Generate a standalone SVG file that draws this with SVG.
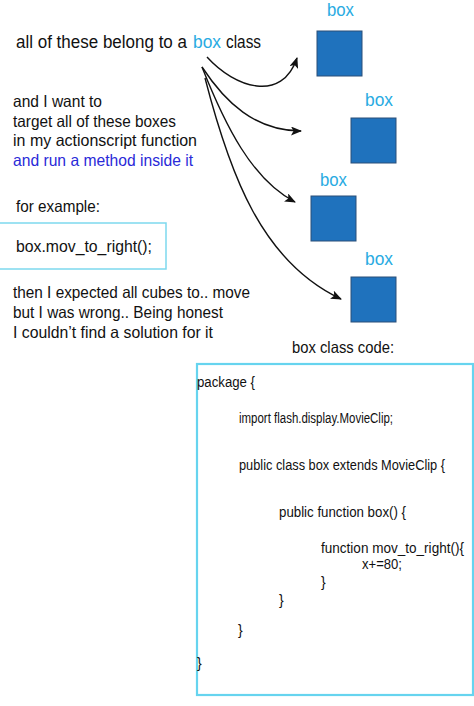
<svg xmlns="http://www.w3.org/2000/svg" width="474" height="706" viewBox="0 0 474 706">
<defs>
<marker id="ah" markerUnits="userSpaceOnUse" markerWidth="11" markerHeight="9" refX="10" refY="4.5" orient="auto">
<path d="M0,0 L11,4.5 L0,9 L2.5,4.5 z" fill="#111"/>
</marker>
<style>
text{font-family:"Liberation Sans",Arial,sans-serif;fill:#111}
.t{font-size:16.5px}
.big{font-size:17.5px}
.lbl{font-size:17.5px;fill:#29abe2}
.blue{fill:#2a2ad8}
.code{font-size:14px}
.cube{fill:#1f72bd;stroke:#2b4f78;stroke-width:1}
.conn path{fill:none;stroke:#111;stroke-width:1.4;marker-end:url(#ah)}
</style>
</defs>
<rect width="474" height="706" fill="#fff"/>

<g id="heading">
<text class="big" x="16" y="48" textLength="171" lengthAdjust="spacingAndGlyphs">all of these belong to a</text>
<text class="big" x="193" y="48" textLength="28" lengthAdjust="spacingAndGlyphs" style="fill:#29abe2">box</text>
<text class="big" x="226" y="48" textLength="35" lengthAdjust="spacingAndGlyphs">class</text>
</g>

<g id="box1">
<text class="lbl" x="327" y="16" textLength="27" lengthAdjust="spacingAndGlyphs">box</text>
<rect class="cube" x="317" y="31" width="45" height="45"/>
</g>
<g id="box2">
<text class="lbl" x="365" y="106" textLength="28" lengthAdjust="spacingAndGlyphs">box</text>
<rect class="cube" x="351" y="118" width="45" height="45"/>
</g>
<g id="box3">
<text class="lbl" x="320" y="186" textLength="27" lengthAdjust="spacingAndGlyphs">box</text>
<rect class="cube" x="311" y="196" width="45" height="45"/>
</g>
<g id="box4">
<text class="lbl" x="365" y="265" textLength="28" lengthAdjust="spacingAndGlyphs">box</text>
<rect class="cube" x="351" y="277" width="45" height="45"/>
</g>

<g id="explanation">
<text class="t" x="13" y="107" textLength="89" lengthAdjust="spacingAndGlyphs">and I want to</text>
<text class="t" x="13" y="127" textLength="163" lengthAdjust="spacingAndGlyphs">target all of these boxes</text>
<text class="t" x="13" y="146" textLength="184" lengthAdjust="spacingAndGlyphs">in my actionscript function</text>
<text class="t blue" x="13" y="166" textLength="180" lengthAdjust="spacingAndGlyphs">and run a method inside it</text>
</g>

<g id="example">
<text class="t" x="16" y="212" textLength="84" lengthAdjust="spacingAndGlyphs">for example:</text>
<rect x="-1" y="223" width="167" height="46" fill="none" stroke="#7dd9ee" stroke-width="1.5"/>
<text class="t" x="16" y="252" textLength="136" lengthAdjust="spacingAndGlyphs">box.mov_to_right();</text>
</g>

<g id="result">
<text class="t" x="13" y="298" textLength="237" lengthAdjust="spacingAndGlyphs">then I expected all cubes to.. move</text>
<text class="t" x="13" y="318" textLength="210" lengthAdjust="spacingAndGlyphs">but I was wrong.. Being honest</text>
<text class="t" x="13" y="338" textLength="200" lengthAdjust="spacingAndGlyphs">I couldn’t find a solution for it</text>
</g>

<g id="code">
<text class="t" x="292" y="353" textLength="102" lengthAdjust="spacingAndGlyphs">box class code:</text>
<rect x="197" y="364" width="276" height="331" fill="none" stroke="#66d4ef" stroke-width="2.2"/>
<text class="code" x="197" y="387" textLength="58" lengthAdjust="spacingAndGlyphs">package  {</text>
<text class="code" x="239" y="423" textLength="154" lengthAdjust="spacingAndGlyphs">import flash.display.MovieClip;</text>
<text class="code" x="239" y="470" textLength="206" lengthAdjust="spacingAndGlyphs">public class box extends MovieClip {</text>
<text class="code" x="279" y="517" textLength="127" lengthAdjust="spacingAndGlyphs">public function box() {</text>
<text class="code" x="321" y="553" textLength="143" lengthAdjust="spacingAndGlyphs">function mov_to_right(){</text>
<text class="code" x="362" y="569" textLength="40" lengthAdjust="spacingAndGlyphs">x+=80;</text>
<text class="code" x="321" y="587">}</text>
<text class="code" x="279" y="605">}</text>
<text class="code" x="238" y="635">}</text>
<text class="code" x="197" y="668">}</text>
</g>

<g id="connectors" class="conn">
<path d="M207,57 C235,88 282,103 297,58"/>
<path d="M202,67 C225,102 255,131 301,131"/>
<path d="M202,67 C225,125 252,180 295,202"/>
<path d="M205,78 C230,175 262,262 341,299"/>
</g>
</svg>
